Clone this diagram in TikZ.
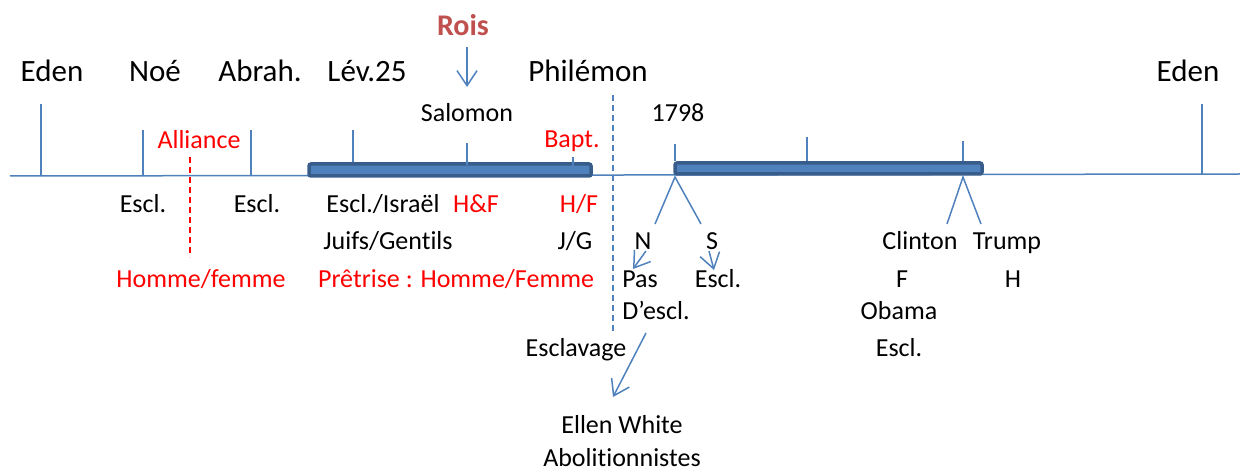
\documentclass[tikz,border=0pt]{standalone}
\usepackage{fontspec}
\setmainfont{Carlito}[Ligatures=NoCommon]
\usetikzlibrary{arrows.meta}
\definecolor{lineblue}{HTML}{4F81BD}
\definecolor{barblue}{HTML}{385D8A}
\definecolor{roisred}{HTML}{C0504D}
\tikzset{
  tl/.style={draw=lineblue, line width=1.5pt},
  era/.style={fill=lineblue, draw=barblue, line width=3.5pt, rounded corners=2pt},
  arr/.style={tl, -{Straight Barb[length=15pt,width=20pt]}},
  big/.style={anchor=base, inner sep=0pt, font=\fontsize{31}{33}\selectfont},
  lbl/.style={anchor=base, inner sep=0pt, font=\fontsize{26}{28}\selectfont},
  rd/.style={lbl, text=red}
}
\begin{document}
\begin{tikzpicture}[x=1pt, y=-1pt]
		%%%%% START %%%%%
		\useasboundingbox (0, 0) rectangle (1240, 470);
		
		% axe du temps
		\draw[tl] (10, 176) -- (1240, 174);
		\draw[era] (309, 164) rectangle (591, 176);
		\draw[era] (675, 163) rectangle (982, 174);
		
		% reperes
		\draw[tl] (41, 104) -- (41, 175.5);
		\draw[tl] (143, 130) -- (143, 175.5);
		\draw[tl] (251, 130) -- (251, 175.5);
		\draw[tl] (353, 130) -- (353, 162);
		\draw[tl] (467, 143) -- (467, 165);
		\draw[tl] (573, 157) -- (573, 172);
		\draw[tl] (675, 144) -- (675, 161);
		\draw[tl] (807, 137) -- (807, 161);
		\draw[tl] (963, 141) -- (963, 161);
		\draw[tl] (1202, 104) -- (1202, 174.5);
		
		% separations
		\draw[draw=red, line width=1.5pt, dash pattern=on 6pt off 4pt] (190, 157) -- (190, 257);
		\draw[draw=lineblue, line width=1.5pt, dash pattern=on 6pt off 4pt] (613, 95) -- (613, 334);
		
		% titres
		\node[big] (eden1) at (52, 82) {Eden};
		\node[big] (noe) at (155, 82) {Noé};
		\node[big] (abrah) at (260, 82) {Abrah.};
		\node[big] (lev) at (367, 82) {Lév.25};
		\node[big] (philemon) at (588, 82) {Philémon};
		\node[big] (eden2) at (1188, 82) {Eden};
		\node[big, text=roisred, font=\fontsize{30}{32}\selectfont\bfseries] (rois) at (463, 36) {Rois};
		
		\node[lbl] (salomon) at (467, 122) {Salomon};
		\node[lbl] (an1798) at (678, 122) {1798};
		\node[rd] (alliance) at (199, 149) {Alliance};
		\node[rd] (bapt) at (572, 148) {Bapt.};
		
		% sous l'axe
		\node[lbl] (escl1) at (143, 213) {Escl.};
		\node[lbl] (escl2) at (257, 213) {Escl.};
		\node[lbl] (israel) at (383, 213) {Escl./Israël};
		\node[rd] (hetf) at (476, 213) {H\&F};
		\node[rd] (hf) at (579, 213) {H/F};
		
		\node[lbl] (juifs) at (388, 250) {Juifs/Gentils};
		\node[lbl] (jg) at (575, 250) {J/G};
		\node[lbl] (nord) at (643, 250) {N};
		\node[lbl] (sud) at (712, 250) {S};
		\node[lbl] (clinton) at (920, 250) {Clinton};
		\node[lbl] (trump) at (1007, 250) {Trump};
		
		\node[rd] (homme) at (201, 288) {Homme/femme};
		\node[rd] (pretrise) at (456, 288) {Prêtrise : Homme/Femme};
		\node[lbl] (pas) at (640, 288) {Pas};
		\node[lbl] (escl3) at (718, 288) {Escl.};
		\node[lbl] (fem) at (902, 288) {F};
		\node[lbl] (hom) at (1013, 288) {H};
		
		\node[lbl] (descl) at (656, 320) {D’escl.};
		\node[lbl] (obama) at (899, 320) {Obama};
		\node[lbl] (esclavage) at (576, 357) {Esclavage};
		\node[lbl] (escl4) at (899, 357) {Escl.};
		\node[lbl] (ellen) at (622, 433) {Ellen White};
		\node[lbl] (abol) at (622, 466) {Abolitionnistes};
		
		% embranchements
		\coordinate (n1798) at (675, 177);
		\coordinate (n2016) at (963, 177);
		\draw[tl] (655, 224) -- (n1798) -- (701, 224);
		\draw[tl] (947, 224) -- (n2016) -- (981, 224);
		
		% fleches
		\coordinate (roisbas) at (467, 87);
		\coordinate (pashaut) at (633, 269);
		\coordinate (esclhaut) at (714, 270);
		\coordinate (ellenhaut) at (613, 397);
		\draw[arr] (467, 47) -- (roisbas);
		\draw[arr] (646, 251) -- (pashaut);
		\draw[arr] (709, 251) -- (esclhaut);
		\draw[arr] (646, 333) -- (ellenhaut);
		
		%%%%% END %%%%%
\end{tikzpicture}
\end{document}
